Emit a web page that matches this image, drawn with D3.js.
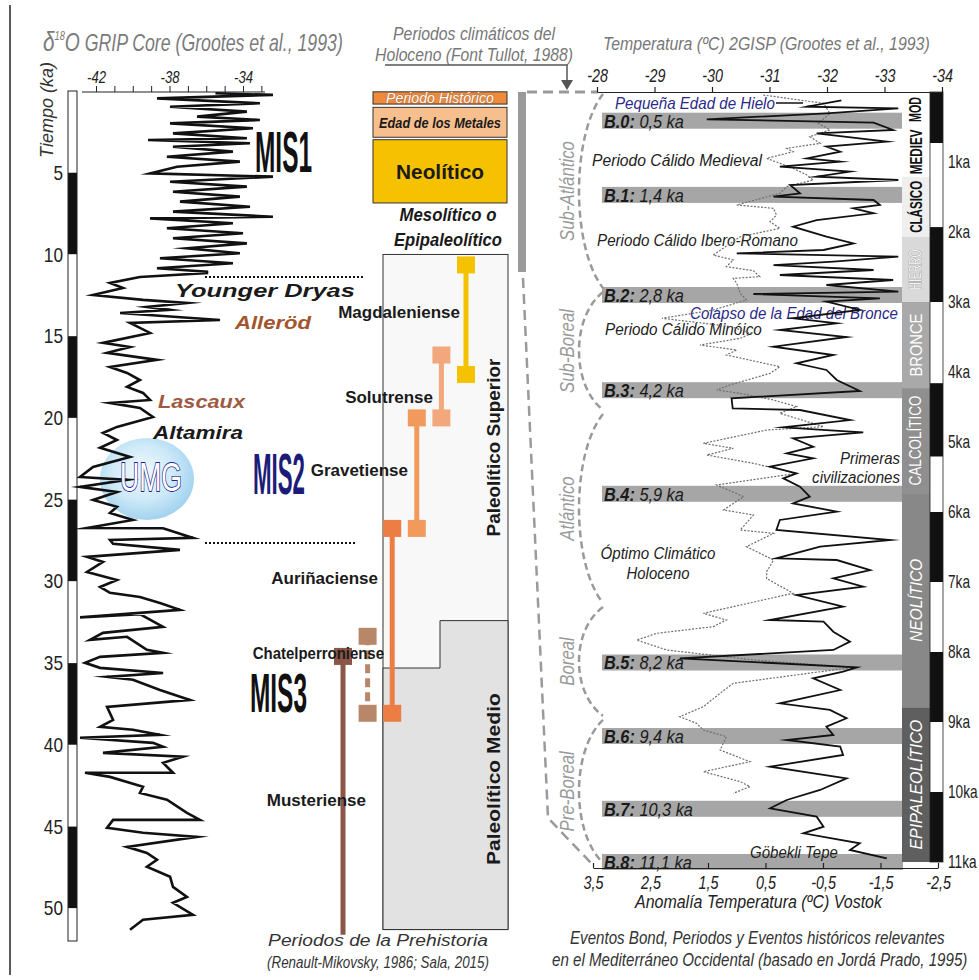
<!DOCTYPE html>
<html><head><meta charset="utf-8">
<script src="https://cdn.jsdelivr.net/npm/d3@7"></script>
<style>html,body{margin:0;padding:0;background:#fff}svg{display:block}</style>
</head><body>
<svg id="chart" width="979" height="980"></svg>
<script>
// ================= DATA =================
// Left: δ18O GRIP core (age in ka, δ18O permil)
const gripAge = [0.14,0.24,0.45,0.75,0.96,1.26,1.57,1.77,1.98,2.28,2.59,2.89,3.0,3.2,3.41,3.71,4.02,4.32,4.63,5.04,5.24,5.55,5.85,6.16,6.46,6.77,7.08,7.38,7.69,7.79,8.09,8.40,8.70,9.01,9.32,9.62,9.93,10.23,10.54,10.84,11.05,
 11.13,11.38,11.74,12.05,12.48,12.78,12.97,13.21,13.39,13.58,14.01,14.19,14.80,15.41,15.66,16.02,16.45,16.88,17.25,17.68,18.10,18.47,18.90,19.08,19.39,19.94,20.55,20.92,21.35,21.83,22.39,23.00,23.61,23.79,24.22,24.53,25.02,25.44,
 25.81,26.24,26.73,26.75,27.34,27.46,27.7,28.07,28.50,28.81,29.42,29.91,30.34,30.70,30.95,31.32,31.74,32.2,32.0,32.78,33.15,33.58,33.39,34.19,34.37,34.62,34.98,35.29,35.60,35.84,36.02,36.64,37.25,37.68,38.47,38.90,39.08,39.39,39.57,39.88,40.12,40.49,40.73,41.10,41.71,41.71,41.96,42.57,42.94,43.36,44.16,44.59,44.59,45.08,45.38,45.63,46.24,46.61,47.03,47.46,48.07,48.69,49.30,49.66,50.40,50.70,51.31];
const gripD18O = [-35.5,-32.37,-38.68,-33.08,-37.97,-33.79,-36.5,-33.08,-37.97,-33.46,-37.81,-33.79,-39.17,-33.62,-37.81,-34.55,-38.14,-34.17,-37.59,-39.06,-32.37,-37.97,-33.79,-37.81,-34.17,-37.43,-33.62,-37.81,-32.37,-39.06,-34.55,-38.14,-34.0,-37.81,-33.79,-37.05,-34.17,-38.52,-34.55,-38.68,-35.96,
 -35.96,-39.61,-41.24,-40.53,-42.16,-39.44,-37.05,-39.23,-37.97,-40.69,-35.25,-40.15,-39.06,-41.62,-40.15,-41.40,-38.68,-41.24,-40.31,-39.61,-40.31,-39.44,-39.06,-41.24,-39.61,-38.90,-40.86,-41.62,-40.86,-41.78,-40.15,-42.16,-42.87,-40.31,-42.87,-40.86,-42.16,-40.86,
 -41.24,-39.99,-42.49,-38.35,-36.72,-41.24,-41.07,-37.43,-42.49,-41.62,-42.49,-40.86,-41.78,-41.24,-39.61,-38.52,-37.43,-42.87,-39.61,-38.35,-41.62,-42.33,-40.31,-39.23,-38.35,-41.78,-42.6,-41.78,-38.35,-41.40,-39.99,-38.52,-36.89,-41.40,-41.07,-41.78,-39.99,-38.52,-42.87,-38.90,-38.35,-41.62,-37.27,-38.35,-37.81,-42.6,-41.24,-39.44,-39.61,-38.14,-37.05,-36.34,-41.07,-41.40,-39.44,-36.51,-40.31,-39.23,-38.68,-39.23,-37.97,-37.81,-37.05,-37.81,-36.72,-39.44,-40.15];
const leftTimeTicks = [5,10,15,20,25,30,35,40,45,50];
const leftStripeBreaks = [0,5,10,15,20,25,30,35,40,45,50,52];
const leftTopTicks = [-42,-41,-40,-39,-38,-37,-36,-35,-34,-33];
const leftTopLabels = [-42,-38,-34];

// Middle: prehistory periods (ka, on the left time axis)
const holoBoxNames = ["Periodo Histórico","Edad de los Metales","Neolítico"];
const holoBoxStart = [0.05,1.0,2.98];
const holoBoxEnd   = [0.8,2.83,6.85];
const paleoSupTop = 10.0, paleoBottom = 51.3, paleoMedioTopRight = 32.4, paleoMedioTopLeft = 35.3;
const industryNames = ["Musteriense","Chatelperroniense","Auriñaciense","Gravetiense","Solutrense","Magdaleniense"];
const industryStart = [34.59,33.36,26.76,20.0,16.15,10.64];
const industryEnd   = [51.62,38.07,38.07,26.76,20.0,17.34];

// Right: GISP2 temperature (ka, ºC)
const gispAge = [0.12,0.21,0.234,0.305,0.39,0.438,0.543,0.59,0.71,0.781,0.853,0.948,0.996,1.067,1.138,1.21,1.257,1.329,1.448,1.495,1.543,1.614,1.662,1.733,1.829,1.924,2.067,2.162,2.257,2.305,2.353,2.424,2.472,2.543,2.614,2.686,2.757,2.852,2.886,2.948,2.995,3.114,3.233,3.305,3.4,3.5,
 3.638,3.757,3.876,3.971,4.114,4.271,4.376,4.519,4.543,4.686,4.79,4.829,4.862,4.948,5.067,5.162,5.233,5.352,5.448,5.519,5.638,5.781,5.876,5.995,6.114,6.257,6.4,6.495,6.662,6.686,6.829,6.948,7.067,
 7.186,7.352,7.543,7.567,7.71,7.852,7.971,8.09,8.219,8.281,8.376,8.543,8.733,8.828,8.947,9.066,9.185,9.257,9.352,9.471,9.638,9.805,9.971,10.114,10.233,10.352,10.495,10.59,10.733,10.828,10.947];
const gispTemp = [-32.25,-31.65,-33.24,-31.99,-29.91,-32.81,-33.15,-31.82,-33.04,-31.99,-32.23,-31.65,-32.23,-31.18,-32.40,-31.82,-33.24,-31.36,-31.53,-31.07,-32.81,-32.92,-32.46,-32.81,-31.82,-31.41,-31.99,-32.46,-31.94,-30.43,-33.24,-32.11,-31.07,-32.81,-31.18,-33.15,-31.99,-33.24,-30.72,-32.92,-31.99,-32.57,-31.41,-32.17,-31.18,-32.34,
 -31.07,-32.11,-31.47,-31.99,-32.17,-32.57,-30.34,-30.36,-31.53,-32.40,-31.24,-31.99,-32.63,-31.41,-31.76,-31.30,-31.76,-31.01,-31.47,-31.24,-31.53,-31.70,-31.41,-32.17,-31.18,-31.12,-33.10,-31.88,-31.12,-32.17,-32.75,-32.11,-32.63,
 -31.47,-32.28,-31.01,-31.94,-32.11,-32.40,-32.11,-29.44,-32.52,-32.28,-31.76,-32.23,-31.18,-32.05,-32.34,-31.99,-32.11,-31.30,-32.23,-32.28,-31.01,-32.34,-31.88,-31.30,-31.01,-31.82,-31.94,-31.59,-32.57,-32.40,-33.04];
// Right: Vostok temperature anomaly (ka, ºC)
const vostokAge = [0.043,0.162,0.305,0.448,0.543,0.638,0.733,0.805,0.853,0.948,1.019,1.09,1.186,1.257,1.352,1.448,1.614,1.662,1.757,1.853,1.948,2.067,2.329,2.4,2.495,2.553,2.638,2.662,2.733,2.876,2.971,3.114,3.233,3.35,3.45,3.519,3.614,3.686,3.757,3.924,4.019,4.186,4.257,4.305,4.4,4.495,4.59,4.781,4.829,5.019,5.09,5.186,5.305,5.448,5.614,5.781,5.971,6.043,6.257,6.305,6.495,6.686,6.852,6.95,7.161,7.447,7.543,7.638,7.733,7.829,7.971,8.114,8.219,8.447,8.59,8.781,8.924,9.019,9.114,9.209,9.4,9.567,9.71,9.852,9.923,10.019];
const vostokAnom = [0.54,-0.51,-0.62,-0.42,-0.62,-0.27,-0.45,0.13,0.02,0.48,0.25,0.02,-0.22,-0.33,0.13,0.25,1.00,0.36,0.31,0.42,0.25,0.94,1.41,1.06,1.18,0.71,0.60,1.06,1.00,0.94,0.83,1.41,2.3,1.1,0.75,0.94,1.64,1.00,1.18,0.25,0.42,1.12,1.35,0.94,0.36,-0.04,0.25,-0.51,0.48,1.58,1.06,1.52,0.71,-0.04,1.35,0.88,1.23,0.71,0.94,0.36,0.83,0.36,0.48,0.48,0.02,1.58,1.18,1.41,2.39,2.74,2.22,0.71,-1.03,1.06,1.29,1.58,1.99,1.70,1.58,1.18,1.29,0.77,1.58,0.94,0.77,1.06];
const topTempTicks = [-28,-29,-30,-31,-32,-33,-34];
const bottomAnomTicks = [3.5,2.5,1.5,0.5,-0.5,-1.5,-2.5];
const kaTicks = [1,2,3,4,5,6,7,8,9,10,11];
const rightStripeBreaks = [0,0.73,1.93,3.0,4.16,5.21,6.0,7.0,8.0,9.0,10.0,11.0];
const bondCodes = ["B.0:","B.1:","B.2:","B.3:","B.4:","B.5:","B.6:","B.7:","B.8:"];
const bondAgeText = [" 0,5 ka"," 1,4 ka"," 2,8 ka"," 4,2 ka"," 5,9 ka"," 8,2 ka"," 9,4 ka"," 10,3  ka"," 11,1  ka"];
const bondAt = [0.41,1.47,2.9,4.26,5.74,8.15,9.2,10.24,11.0];
const periodNames = ["MOD","MEDIEV","CLÁSICO","HIERRO","BRONCE","CALCOLÍTICO","NEOLÍTICO","EPIPALEOLÍTICO"];
const periodStart = [0,0.5,1.21,2.07,3.0,4.23,5.73,8.79];
const periodEnd   = [0.5,1.21,2.07,3.0,4.23,5.73,8.79,11.0];
const climateNames = ["Sub-Atlántico","Sub-Boreal","Atlántico","Boreal","Pre-Boreal"];
const climateStart = [0,2.83,4.57,7.33,8.94];
const climateEnd   = [2.83,4.57,7.33,8.94,11.04];

// ================= STYLE =================
const SANS = "'Liberation Sans',Arial,sans-serif";
const industryColors = ["#8b5647","#b8876a","#ec7e45","#f19a5c","#f3a77c","#f5c200"];
const holoBoxColors = ["#ee8a3c","#f7bf8e","#f5c100"];
const periodFill = ["#ffffff","#ffffff","#efefef","#d9d9d9","#a9a9a9","#8f8f8f","#888888","#5f5f5f"];
const periodText = ["#111","#111","#111","#f4f4f4","#fff","#fff","#fff","#fff"];
const periodLen = [25,45,52,40,63,90,83,130];

const svg = d3.select("#chart");
const defs = svg.append("defs");
const grad = defs.append("radialGradient").attr("id","umg").attr("cx","45%").attr("cy","42%").attr("r","62%");
grad.append("stop").attr("offset","0%").attr("stop-color","#f4fbff");
grad.append("stop").attr("offset","55%").attr("stop-color","#cde9f8");
grad.append("stop").attr("offset","100%").attr("stop-color","#9ccfee");

// Text helper: drawn at origin, then placed with a transform; horizontal
// compression (to emulate the condensed typeface of the original) is a scale.
function place(t,x,y,o){
  const w=t.node().getComputedTextLength();
  let sx=1;
  if(o.tl) sx=o.tl/w; else if(o.nar) sx=o.nar;
  let tr=`translate(${x},${y})`;
  if(o.rot) tr+=` rotate(${o.rot})`;
  if(sx!==1) tr+=` scale(${sx.toFixed(4)},1)`;
  t.attr("transform",tr);
}
function T(g,x,y,s,o={}){
  const t=g.append("text").attr("x",0).attr("y",0).text(s)
    .attr("font-family",SANS).attr("font-size",o.fs||16).attr("fill",o.fill||"#222")
    .attr("text-anchor",o.anchor||"start").attr("dominant-baseline",o.db||"central");
  if(o.it) t.attr("font-style","italic");
  if(o.b) t.attr("font-weight","bold");
  if(o.stroke) t.attr("stroke",o.stroke).attr("stroke-width",o.sw||1).attr("paint-order","stroke");
  place(t,x,y,o);
  return t;
}
function narrowAxis(a,f){
  a.selectAll("text").each(function(){
    const s=d3.select(this);
    const tx=+s.attr("x")||0, ty=+s.attr("y")||0;
    s.attr("transform",`translate(${tx},${ty}) scale(${f},1) translate(${-tx},${-ty})`);
  });
}

// ================= LEFT PANEL =================
const xD = d3.scaleLinear().domain([-42,-34]).range([96,243]);
const yL = d3.scaleLinear().domain([0,52]).range([91,941]);
const L = svg.append("g");
L.append("line").attr("x1",10).attr("x2",10).attr("y1",5).attr("y2",975).attr("stroke","#222").attr("stroke-width",1.5);

const t1 = L.append("text").attr("x",0).attr("y",0).attr("fill","#7b7b7b").attr("font-family",SANS)
  .attr("font-style","italic").attr("font-size",23);
t1.append("tspan").text("δ").attr("font-size",27);
t1.append("tspan").text("18").attr("font-size",12).attr("dy",-11);
t1.append("tspan").text("O").attr("font-size",25).attr("dy",11);
t1.append("tspan").text(" GRIP Core (Grootes et al., 1993)");
place(t1,43,51,{tl:300});

T(L,47,110,"Tiempo (ka)",{rot:-90,anchor:"middle",it:true,fs:18,tl:96,fill:"#333"});

// stripe
L.selectAll("rect.ls").data(d3.range(leftStripeBreaks.length-1)).join("rect")
  .attr("x",68).attr("width",9).attr("y",i=>yL(leftStripeBreaks[i]))
  .attr("height",i=>yL(leftStripeBreaks[i+1])-yL(leftStripeBreaks[i]))
  .attr("fill",i=>i%2?"#111":"#fff");
L.append("rect").attr("x",68).attr("width",9).attr("y",yL(0)).attr("height",yL(52)-yL(0))
  .attr("fill","none").attr("stroke","#222").attr("stroke-width",1);
leftTimeTicks.forEach(d=>T(L,63,yL(d),String(d),{anchor:"end",fs:21,nar:0.82}));

// top axis
const ax1 = L.append("g").attr("transform","translate(0,92)")
  .call(d3.axisTop(xD).tickValues(leftTopTicks).tickSize(6).tickPadding(3)
    .tickFormat(d=>leftTopLabels.includes(d)?String(d):""));
ax1.select(".domain").remove();
ax1.selectAll("line").attr("stroke","#222");
ax1.selectAll("text").attr("font-family",SANS).attr("font-style","italic").attr("font-size",16).attr("fill","#222");
narrowAxis(ax1,0.82);
L.append("line").attr("x1",82).attr("x2",265).attr("y1",92).attr("y2",92).attr("stroke","#222").attr("stroke-width",1.2);

// UMG bubble
L.append("ellipse").attr("cx",147).attr("cy",479).attr("rx",47).attr("ry",41).attr("fill","url(#umg)");
// curve
L.append("path").datum(d3.range(gripAge.length))
  .attr("d",d3.line().x(i=>xD(gripD18O[i])).y(i=>yL(gripAge[i])))
  .attr("fill","none").attr("stroke","#111").attr("stroke-width",2.6)
  .attr("stroke-linejoin","miter").attr("stroke-miterlimit",12);
T(L,151,477,"UMG",{anchor:"middle",fs:40,tl:62,fill:"#fff",stroke:"#22228a",sw:1.8});

// annotations
L.append("line").attr("x1",205).attr("x2",365).attr("y1",277).attr("y2",277).attr("stroke","#111").attr("stroke-width",2).attr("stroke-dasharray","2,2");
L.append("line").attr("x1",205).attr("x2",355).attr("y1",543).attr("y2",543).attr("stroke","#111").attr("stroke-width",2).attr("stroke-dasharray","2,2");
T(L,175,291,"Younger Dryas",{b:true,it:true,fs:19,tl:180,fill:"#1a1a1a"});
T(L,235,322,"Alleröd",{b:true,it:true,fs:19,tl:76,fill:"#a3562e"});
T(L,158,401,"Lascaux",{b:true,it:true,fs:19,tl:87,fill:"#a05a42"});
T(L,153,432,"Altamira",{b:true,it:true,fs:19,tl:90,fill:"#1a1a1a"});
T(L,255,172,"MIS1",{b:true,fs:58,tl:57,db:"alphabetic",fill:"#111"});
T(L,253,494,"MIS2",{b:true,fs:58,tl:52,db:"alphabetic",fill:"#1c1c78"});
T(L,250,712,"MIS3",{b:true,fs:56,tl:57,db:"alphabetic",fill:"#111"});

// ================= MIDDLE PANEL =================
const M = svg.append("g");
T(M,474,33,"Periodos climáticos del",{anchor:"middle",it:true,fs:19,tl:162,fill:"#777"});
T(M,474,54,"Holoceno (Font Tullot, 1988)",{anchor:"middle",it:true,fs:19,tl:198,fill:"#777"});
M.append("path").attr("d","M385,65H567V82").attr("fill","none").attr("stroke","#555").attr("stroke-width",1.5);
M.append("path").attr("d","M561,80L573,80L567,90Z").attr("fill","#555");

// Holocene boxes
holoBoxNames.forEach((n,i)=>{
  M.append("rect").attr("x",373).attr("width",134).attr("y",yL(holoBoxStart[i]))
    .attr("height",yL(holoBoxEnd[i])-yL(holoBoxStart[i])).attr("fill",holoBoxColors[i])
    .attr("stroke","#333").attr("stroke-width",1);
});
const hb = i=>(yL(holoBoxStart[i])+yL(holoBoxEnd[i]))/2;
T(M,440,hb(0),holoBoxNames[0],{anchor:"middle",it:true,fs:14,tl:108,fill:"#fff",stroke:"#b86a35",sw:1});
T(M,440,hb(1),holoBoxNames[1],{anchor:"middle",it:true,b:true,fs:15,tl:122,fill:"#1a1a1a"});
T(M,440,hb(2),holoBoxNames[2],{anchor:"middle",b:true,fs:21,tl:88,fill:"#1a1a1a"});
T(M,448,215,"Mesolítico o",{anchor:"middle",it:true,b:true,fs:19,tl:97,fill:"#1a1a1a"});
T(M,448,240,"Epipaleolítico",{anchor:"middle",it:true,b:true,fs:19,tl:108,fill:"#1a1a1a"});

// Paleolithic boxes
M.append("rect").attr("x",383).attr("width",125).attr("y",yL(paleoSupTop)).attr("height",yL(paleoBottom)-yL(paleoSupTop))
  .attr("fill","#f8f8f8").attr("stroke","#333").attr("stroke-width",1);
M.append("path").attr("d",`M383,${yL(paleoMedioTopLeft)}H440V${yL(paleoMedioTopRight)}H508V${yL(paleoBottom)}H383Z`)
  .attr("fill","#e2e2e2").attr("stroke","#333").attr("stroke-width",1);
T(M,494,(yL(paleoSupTop)+yL(paleoMedioTopRight))/2+10,"Paleolítico Superior",{rot:-90,anchor:"middle",b:true,fs:18,tl:178,fill:"#1a1a1a"});
T(M,494,(yL(paleoMedioTopRight)+yL(paleoBottom))/2+4,"Paleolítico Medio",{rot:-90,anchor:"middle",b:true,fs:18,tl:172,fill:"#1a1a1a"});

// industries
const xI = d3.scalePoint().domain(industryNames).range([343,466]);
industryNames.forEach((n,i)=>{
  const x = xI(n), y0=yL(industryStart[i]), y1=yL(industryEnd[i]);
  const ln = M.append("line").attr("x1",x).attr("x2",x).attr("y1",y0).attr("y2",y1)
    .attr("stroke",industryColors[i]).attr("stroke-width",5);
  if(n==="Chatelperroniense") ln.attr("stroke-dasharray","9,5");
  M.append("rect").attr("x",x-9).attr("y",y0-8.5).attr("width",18).attr("height",17).attr("fill",industryColors[i]);
  if(n!=="Musteriense") M.append("rect").attr("x",x-9).attr("y",y1-8.5).attr("width",18).attr("height",17).attr("fill",industryColors[i]);
});
const indLab = {"Magdaleniense":[460,312],"Solutrense":[433,397],"Gravetiense":[408,470],"Auriñaciense":[378,578],"Chatelperroniense":[384,653],"Musteriense":[366,800]};
industryNames.forEach(n=>{ T(M,indLab[n][0],indLab[n][1],n,{anchor:"end",b:true,fs:17,fill:"#1a1a1a",nar:n==="Chatelperroniense"?0.88:1}); });

// bottom caption
T(M,378,940,"Periodos de la Prehistoria",{anchor:"middle",it:true,fs:17,tl:220,fill:"#333"});
T(M,378,962,"(Renault-Mikovsky, 1986; Sala, 2015)",{anchor:"middle",it:true,fs:17,tl:222,fill:"#333"});

// Holocene bracket
M.append("rect").attr("x",518).attr("y",92).attr("width",8).attr("height",180).attr("fill","#9a9a9a");
M.append("path").attr("d","M527,92H598").attr("stroke","#9a9a9a").attr("stroke-width",3).attr("stroke-dasharray","10,6").attr("fill","none");
M.append("path").attr("d","M523,278L548,818L592,864").attr("stroke","#9a9a9a").attr("stroke-width",2.5).attr("stroke-dasharray","10,6").attr("fill","none");

// ================= RIGHT PANEL =================
const R = svg.append("g");
const xT = d3.scaleLinear().domain([-28,-34]).range([597,942]);
const xA = d3.scaleLinear().domain([3.5,-2.5]).range([593,938]);
const yR = d3.scaleLinear().domain([0,11]).range([92,862]);

T(R,603,43,"Temperatura (ºC) 2GISP (Grootes et al., 1993)",{it:true,fs:19,tl:327,fill:"#777"});

// bands
R.selectAll("rect.bond").data(bondAt).join("rect").attr("class","bond")
  .attr("x",602).attr("width",301).attr("y",d=>yR(d)-8).attr("height",16).attr("fill","#a6a6a6");

// period column
periodNames.forEach((n,i)=>{
  const y0=yR(periodStart[i]), y1=yR(periodEnd[i]);
  R.append("rect").attr("x",902).attr("width",28).attr("y",y0).attr("height",y1-y0).attr("fill",periodFill[i]);
  const o={rot:-90,anchor:"middle",fs:16,tl:periodLen[i],fill:periodText[i]};
  if(i<3) o.b=true;
  if(i>=6) o.it=true;
  if(i===3){o.stroke="#9a9a9a";o.sw=1;}
  T(R,916,(y0+y1)/2,n,o);
});
// ka stripe
R.selectAll("rect.rs").data(d3.range(rightStripeBreaks.length-1)).join("rect")
  .attr("x",930).attr("width",13).attr("y",i=>yR(rightStripeBreaks[i]))
  .attr("height",i=>yR(rightStripeBreaks[i+1])-yR(rightStripeBreaks[i]))
  .attr("fill",i=>i%2?"#fff":"#111");
R.append("rect").attr("x",930).attr("width",13).attr("y",yR(0)).attr("height",yR(11)-yR(0))
  .attr("fill","none").attr("stroke","#222").attr("stroke-width",0.8);
kaTicks.forEach(d=>T(R,948,yR(d),d+"ka",{fs:17.5,nar:0.78}));

// axes
const axT = R.append("g").attr("transform","translate(0,92)")
  .call(d3.axisTop(xT).tickValues(topTempTicks).tickSize(5).tickSizeOuter(0).tickPadding(5).tickFormat(d=>String(d)));
const axB = R.append("g").attr("transform","translate(0,868)")
  .call(d3.axisBottom(xA).tickValues(bottomAnomTicks).tickSizeInner(-5).tickSizeOuter(0).tickPadding(9)
    .tickFormat(d=>String(d).replace(".",",")));
[axT,axB].forEach(a=>{
  a.selectAll("path,line").attr("stroke","#222").attr("stroke-width",1.2);
  a.selectAll("text").attr("font-family",SANS).attr("font-style","italic").attr("font-size",17.5).attr("fill","#222");
  narrowAxis(a,0.82);
});
T(R,635,902,"Anomalía Temperatura (ºC) Vostok",{it:true,fs:19,tl:247,fill:"#222"});
T(R,570,938,"Eventos Bond, Periodos y Eventos históricos relevantes",{it:true,fs:18,tl:375,fill:"#333"});
T(R,552,960,"en el Mediterráneo Occidental (basado en Jordá Prado, 1995)",{it:true,fs:18,tl:416,fill:"#333"});

// climate braces
climateNames.forEach((n,i)=>{
  const y0=yR(climateStart[i]), y1=yR(climateEnd[i]), h=y1-y0;
  R.append("path").attr("d",`M603,${y0+2}C571,${y0+h*0.22} 571,${y1-h*0.22} 603,${y1-2}`)
    .attr("fill","none").attr("stroke","#9a9a9a").attr("stroke-width",2.5).attr("stroke-dasharray","7,4");
  T(R,567,(y0+y1)/2,n,{rot:-90,anchor:"middle",it:true,fs:20,fill:"#9a9a9a",nar:0.84});
});

// bond labels
bondCodes.forEach((c,i)=>{
  const t=R.append("text").attr("x",0).attr("y",0).attr("dominant-baseline","central")
    .attr("font-family",SANS).attr("font-size",19).attr("font-style","italic").attr("fill","#1a1a1a");
  t.append("tspan").attr("font-weight","bold").text(c);
  t.append("tspan").text(bondAgeText[i]);
  place(t,604,yR(bondAt[i])+0.5,{nar:0.86});
});

// annotations
T(R,615,103,"Pequeña Edad de Hielo",{it:true,fs:16,tl:160,fill:"#2a2a8a"});
R.append("line").attr("x1",776).attr("x2",803).attr("y1",103).attr("y2",103).attr("stroke","#111").attr("stroke-width",1.5);
T(R,592,160,"Periodo Cálido Medieval",{it:true,fs:17,tl:170,fill:"#222"});
T(R,597,240,"Periodo Cálido Ibero-Romano",{it:true,fs:17,tl:201,fill:"#222"});
T(R,690,313,"Colapso de la Edad del Bronce",{it:true,fs:17,tl:208,fill:"#2a2a8a"});
T(R,605,329,"Periodo Cálido Minóico",{it:true,fs:17,tl:157,fill:"#222"});
T(R,900,458,"Primeras",{anchor:"end",it:true,fs:17,tl:60,fill:"#222"});
T(R,900,477,"civilizaciones",{anchor:"end",it:true,fs:17,tl:88,fill:"#222"});
T(R,658,553,"Óptimo Climático",{anchor:"middle",it:true,fs:17,tl:115,fill:"#222"});
T(R,658,573,"Holoceno",{anchor:"middle",it:true,fs:17,tl:63,fill:"#222"});
T(R,750,852,"Göbekli Tepe",{it:true,fs:17,tl:88,fill:"#222"});

// curves
R.append("path").datum(d3.range(vostokAge.length))
  .attr("d",d3.line().x(i=>xA(vostokAnom[i])).y(i=>yR(vostokAge[i])))
  .attr("fill","none").attr("stroke","#6e6e6e").attr("stroke-width",1.2).attr("stroke-dasharray","2,1.5");
R.append("path").datum(d3.range(gispAge.length))
  .attr("d",d3.line().x(i=>xT(gispTemp[i])).y(i=>yR(gispAge[i])))
  .attr("fill","none").attr("stroke","#111").attr("stroke-width",1.8).attr("stroke-linejoin","miter").attr("stroke-miterlimit",12);
</script>
</body></html>
